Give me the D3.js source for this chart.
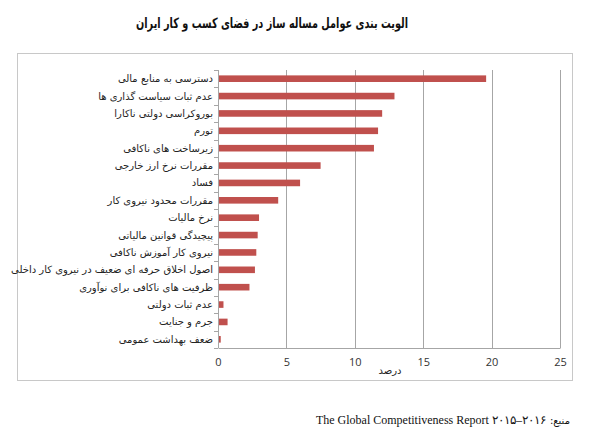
<!DOCTYPE html>
<html>
<head>
<meta charset="utf-8">
<script src="https://cdn.jsdelivr.net/npm/d3@7"></script>
<style>
  body { margin: 0; background: #fff; }
  svg { display: block; }
</style>
</head>
<body>
<svg id="chart" width="600" height="435"></svg>
<script>
// data
var categories = [
  "دسترسی به منابع مالی",
  "عدم ثبات سیاست گذاری ها",
  "بوروکراسی دولتی ناکارا",
  "تورم",
  "زیرساخت های ناکافی",
  "مقررات نرخ ارز خارجی",
  "فساد",
  "مقررات محدود نیروی کار",
  "نرخ مالیات",
  "پیچیدگی قوانین مالیاتی",
  "نیروی کار آموزش ناکافی",
  "اصول اخلاق حرفه ای ضعیف در نیروی کار داخلی",
  "ظرفیت های ناکافی برای نوآوری",
  "عدم ثبات دولتی",
  "جرم و جنایت",
  "ضعف بهداشت عمومی"
];
var values = [19.6, 12.9, 12.0, 11.7, 11.4, 7.5, 6.0, 4.4, 3.0, 2.9, 2.8, 2.7, 2.3, 0.4, 0.7, 0.2];
var xTicks = [0, 5, 10, 15, 20, 25];
var title = "الویت بندی عوامل مساله ساز در فضای کسب و کار ایران";
var axisTitle = "درصد";
var sourceLabel = ":منبع";
var sourceText = "The Global Competitiveness Report ۲۰۱۵–۲۰۱۶";

var svg = d3.select("#chart");
var faFont = "'DejaVu Sans', sans-serif";

// plot area
var plotL = 218, plotR = 560, plotT = 70, plotB = 348;

var x = d3.scaleLinear().domain([0, 25]).range([plotL, plotR]);
var y = d3.scaleBand().domain(categories).range([plotT, plotB]).paddingInner(0.62).paddingOuter(0.31);

// title
svg.append("text")
  .attr("x", 272)
  .attr("y", 28)
  .attr("text-anchor", "middle")
  .attr("textLength", 272)
  .attr("lengthAdjust", "spacingAndGlyphs")
  .style("font-family", faFont)
  .style("font-weight", "bold")
  .style("font-size", "14px")
  .attr("fill", "#111")
  .text(title);

// chart frame
svg.append("rect")
  .attr("x", 17.5)
  .attr("y", 53.5)
  .attr("width", 555)
  .attr("height", 327)
  .attr("fill", "none")
  .attr("stroke", "#c8c8c8");

// gridlines
svg.selectAll("line.grid")
  .data(xTicks.slice(1))
  .enter()
  .append("line")
  .attr("class", "grid")
  .attr("x1", function(d) { return Math.round(x(d)) + 0.5; })
  .attr("x2", function(d) { return Math.round(x(d)) + 0.5; })
  .attr("y1", plotT)
  .attr("y2", plotB)
  .attr("stroke", "#a6a6a6");

// bars
svg.selectAll("rect.bar")
  .data(values)
  .enter()
  .append("rect")
  .attr("class", "bar")
  .attr("x", x(0))
  .attr("y", function(d, i) { return y(categories[i]); })
  .attr("width", function(d) { return x(d) - x(0); })
  .attr("height", y.bandwidth())
  .attr("fill", "#c0504d");

// x axis
var xAxis = svg.append("g")
  .attr("transform", "translate(0," + plotB + ")")
  .call(d3.axisBottom(x).tickValues(xTicks).tickSize(0).tickPadding(10));
xAxis.select(".domain").attr("stroke", "#a6a6a6");
xAxis.selectAll("text")
  .style("font-family", "'Open Sans', sans-serif")
  .style("font-size", "11px")
  .attr("fill", "#333");

// y axis: tick marks at band boundaries
var yAxis = svg.append("g");
yAxis.append("line")
  .attr("x1", plotL + 0.5).attr("x2", plotL + 0.5)
  .attr("y1", plotT).attr("y2", plotB)
  .attr("stroke", "#a6a6a6");
var step = y.step();
yAxis.selectAll("line.tick")
  .data(d3.range(categories.length + 1))
  .enter()
  .append("line")
  .attr("class", "tick")
  .attr("x1", plotL - 4).attr("x2", plotL)
  .attr("y1", function(i) { return Math.round(plotT + i * step) + 0.5; })
  .attr("y2", function(i) { return Math.round(plotT + i * step) + 0.5; })
  .attr("stroke", "#a6a6a6");

// category labels
svg.selectAll("text.cat")
  .data(categories)
  .enter()
  .append("text")
  .attr("class", "cat")
  .attr("x", 213)
  .attr("y", function(d) { return y(d) + y.bandwidth() / 2; })
  .attr("dy", "0.35em")
  .attr("text-anchor", "end")
  .style("font-family", faFont)
  .style("font-size", "10px")
  .attr("fill", "#222")
  .text(function(d) { return d; });

// axis title
svg.append("text")
  .attr("x", 390)
  .attr("y", 374)
  .attr("text-anchor", "middle")
  .style("font-family", faFont)
  .style("font-size", "10px")
  .attr("fill", "#222")
  .text(axisTitle);

// source line
var src1 = svg.append("text")
  .attr("x", 570)
  .attr("y", 424)
  .attr("text-anchor", "end")
  .style("font-family", faFont)
  .style("font-size", "10px")
  .attr("fill", "#111")
  .text(sourceLabel);
var w1 = src1.node().getComputedTextLength();
svg.append("text")
  .attr("x", 570 - w1 - 4)
  .attr("y", 424)
  .attr("text-anchor", "end")
  .style("font-family", "'Liberation Serif', 'DejaVu Serif', serif")
  .style("font-size", "12px")
  .style("direction", "ltr")
  .style("unicode-bidi", "bidi-override")
  .attr("fill", "#111")
  .text(sourceText);
</script>
</body>
</html>
